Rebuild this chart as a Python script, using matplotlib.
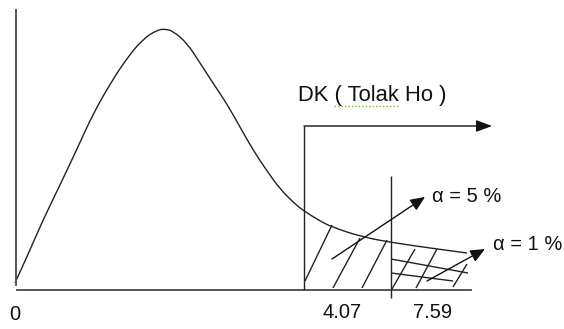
import matplotlib.pyplot as plt
from matplotlib.path import Path
from matplotlib.patches import PathPatch

plt.rcParams['font.family'] = ['Liberation Sans', 'DejaVu Sans']

# Picture coordinates (pixels, y grows downward)
# Density curve
curve_x = [15, 30, 43, 60, 77, 93, 110, 127, 143, 157, 165, 173, 187, 200, 213,
           227, 240, 253, 267, 280, 295, 304, 320, 332, 362, 395, 430, 467]
curve_y = [283, 250, 220, 185, 149, 114, 84, 58, 39, 30, 29, 31, 43, 63, 83,
           104, 127, 150, 171, 189, 204, 211, 221, 227, 237, 243, 248, 253]

# Axes
y_axis_x = [16, 16]
y_axis_y = [10, 285]
x_axis_x = [17, 471]
x_axis_y = [290, 290]

# Critical values and their labels
crit_labels = ["0", "4.07", "7.59"]
crit_label_x = [15, 342, 433]
crit_label_y = [314, 312, 313]

# Rejection region box (DK) and 1% marker line
dk_line_x = [304, 304, 492]
dk_line_y = [290, 126, 126]
one_pct_x = [391, 391]
one_pct_y = [176, 298]

# Hatch strokes in the 5% area
hatch5_x0 = [305, 333, 362]
hatch5_y0 = [281, 288, 288]
hatch5_x1 = [332, 360, 387]
hatch5_y1 = [225, 238, 240]

# Hatch strokes in the 1% area (diagonal and near-horizontal)
hatch1_x0 = [392, 416, 453, 391, 391]
hatch1_y0 = [289, 288, 287, 259, 273]
hatch1_x1 = [415, 437, 467, 468, 453]
hatch1_y1 = [249, 249, 264, 273, 281]

# Pointer arrows for the alpha labels
alpha_labels = ["\u03b1 = 5 %", "\u03b1 = 1 %"]
alpha_text_x = [432, 493]
alpha_text_y = [197, 245]
alpha_arrow_from = [(332, 259), (427, 281)]
alpha_arrow_to = [(425, 197), (485, 249)]

dk_text = "DK ( Tolak Ho )"
dk_text_pos = (298, 95)
squiggle_x = [334, 400]
squiggle_y = [106, 106]

fig = plt.figure(figsize=(5.64, 3.29), dpi=100)
ax = fig.add_axes([0, 0, 1, 1])
ax.set_xlim(0, 564)
ax.set_ylim(329, 0)
ax.axis("off")

line_kw = dict(color="#222222", lw=1.0, solid_capstyle="butt")

ax.plot(y_axis_x, y_axis_y, color="#555555", lw=1.4)
ax.plot(x_axis_x, x_axis_y, color="#555555", lw=1.4)

# smooth curve: read points used as quadratic bezier controls
pts = list(zip(curve_x, curve_y))
verts = [pts[0]]
codes = [Path.MOVETO]
for i in range(1, len(pts) - 1):
    mid = ((pts[i][0] + pts[i + 1][0]) / 2, (pts[i][1] + pts[i + 1][1]) / 2)
    verts += [pts[i], mid]
    codes += [Path.CURVE3, Path.CURVE3]
verts.append(pts[-1])
codes.append(Path.LINETO)
ax.add_patch(PathPatch(Path(verts, codes), facecolor="none",
                       edgecolor="#222222", lw=1.0))

ax.plot(dk_line_x[:2], dk_line_y[:2], **line_kw)
ax.annotate("", xy=(dk_line_x[2], dk_line_y[2]), xytext=(dk_line_x[1], dk_line_y[1]),
            arrowprops=dict(arrowstyle="-|>,head_length=0.8,head_width=0.3",
                            mutation_scale=12, color="#111111", lw=1.0,
                            shrinkA=0, shrinkB=0))
ax.plot(one_pct_x, one_pct_y, **line_kw)

for x0, y0, x1, y1 in zip(hatch5_x0, hatch5_y0, hatch5_x1, hatch5_y1):
    ax.plot([x0, x1], [y0, y1], **line_kw)
for x0, y0, x1, y1 in zip(hatch1_x0, hatch1_y0, hatch1_x1, hatch1_y1):
    ax.plot([x0, x1], [y0, y1], **line_kw)

for (fx, fy), (tx, ty) in zip(alpha_arrow_from, alpha_arrow_to):
    ax.annotate("", xy=(tx, ty), xytext=(fx, fy),
                arrowprops=dict(arrowstyle="-|>,head_length=0.8,head_width=0.35",
                                mutation_scale=11, color="#111111", lw=1.0,
                                shrinkA=0, shrinkB=0))

fs = 14.5
for lab, x, y in zip(crit_labels, crit_label_x, crit_label_y):
    ax.text(x, y, lab, ha="center", va="center", fontsize=fs, color="#111111")
for lab, x, y in zip(alpha_labels, alpha_text_x, alpha_text_y):
    ax.text(x, y, lab, ha="left", va="center", fontsize=fs, color="#111111")
ax.text(dk_text_pos[0], dk_text_pos[1], dk_text, ha="left", va="center",
        fontsize=15.8, color="#111111")

# spell-check squiggle under "( Tolak"
ax.plot(squiggle_x, squiggle_y, color="#7cb342", lw=1.0, ls=(0, (1, 1.5)))

fig.savefig("out.png", dpi=100)
